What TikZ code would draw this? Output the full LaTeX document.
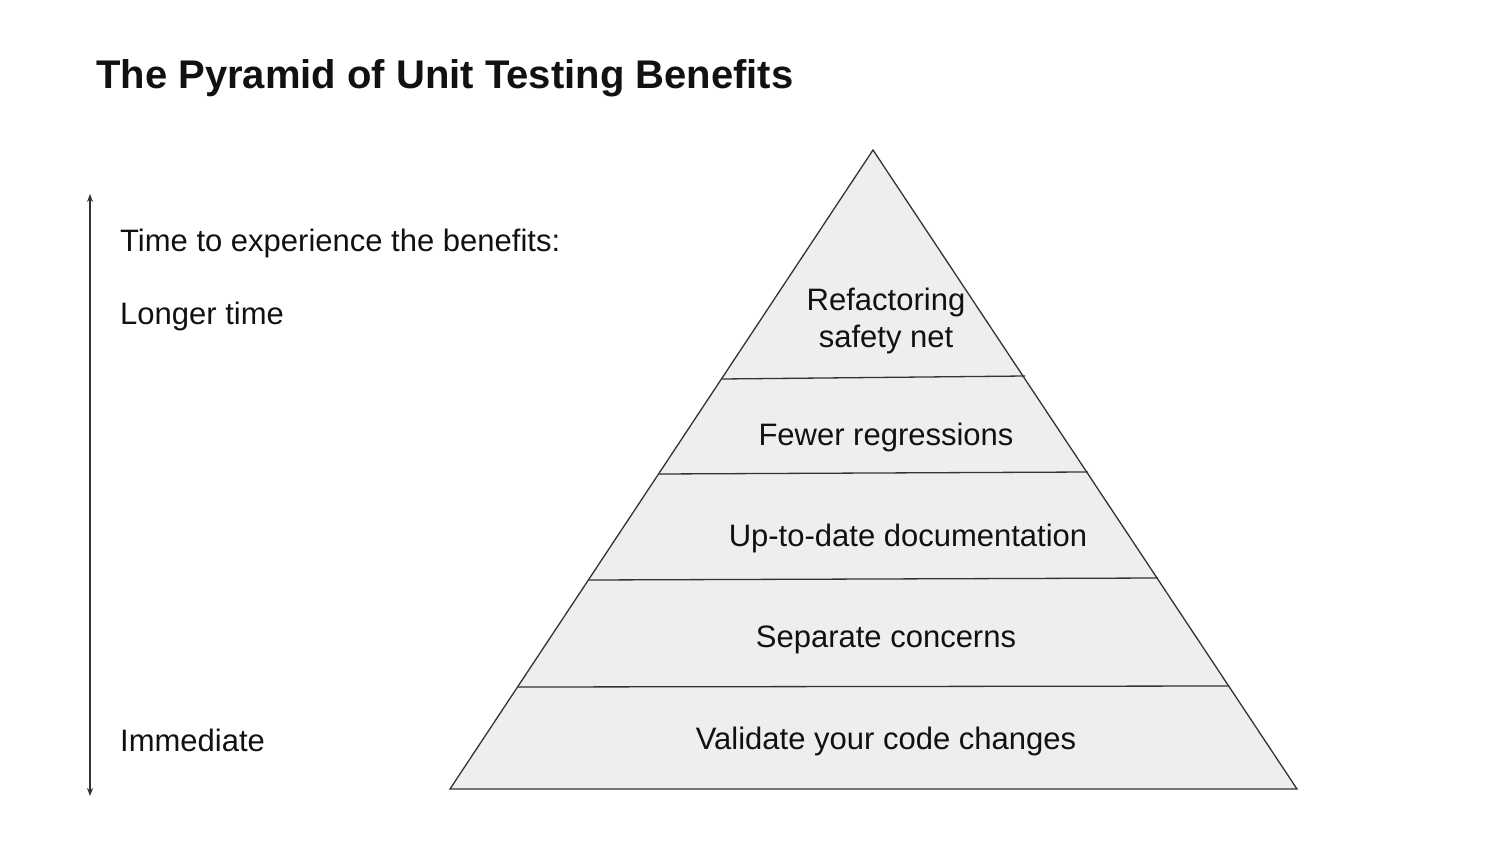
\documentclass[tikz,border=0pt]{standalone}
\usepackage{fontspec}
\setmainfont{Liberation Sans}
\usetikzlibrary{arrows.meta}
\definecolor{tierfill}{HTML}{EEEEEE}
\definecolor{edge}{HTML}{333333}
\definecolor{ink}{HTML}{111111}
\begin{document}
\begin{tikzpicture}[x=1pt,y=-1pt,
  body/.style={font=\fontsize{31}{37}\selectfont, text=ink, inner sep=0pt},
  side/.style={body, anchor=west},
  tierline/.style={draw=edge, line width=1.3pt},
  axis/.style={draw=edge, line width=1.4pt, {Stealth[length=8pt,width=6pt]}-{Stealth[length=8pt,width=6pt]}}]
\useasboundingbox (0,0) rectangle (1490,850);
% title
\node[anchor=west, inner sep=0pt, text=ink, font=\fontsize{40}{46}\selectfont\bfseries] (title) at (96,78) {The Pyramid of Unit Testing Benefits};
% axis
\coordinate (atop) at (90,194);
\coordinate (abot) at (90,796);
\draw[axis] (abot) -- (atop);
\node[side] (timelbl) at (120,243) {Time to experience the benefits:};
\node[side] (longer) at (120,316) {Longer time};
\node[side] (immediate) at (120,740) {Immediate};
% pyramid
\coordinate (apex) at (873,150);
\coordinate (bl) at (450,789);
\coordinate (br) at (1297,789);
\coordinate (l1) at (722,379); \coordinate (r1) at (1025,376);
\coordinate (l2) at (659,474); \coordinate (r2) at (1088,472);
\coordinate (l3) at (589,580); \coordinate (r3) at (1158,578);
\coordinate (l4) at (518,687); \coordinate (r4) at (1229,686);
\fill[tierfill] (apex) -- (bl) -- (br) -- cycle;
\draw[tierline] (l1) -- (r1);
\draw[tierline] (l2) -- (r2);
\draw[tierline] (l3) -- (r3);
\draw[tierline] (l4) -- (r4);
\draw[tierline, line join=miter] (apex) -- (bl) -- (br) -- cycle;
% labels
\node[body, align=center] (t1) at (886,321) {Refactoring\\safety net};
\node[body] (t2) at (886,437) {Fewer regressions};
\node[body] (t3) at (908,538) {Up-to-date documentation};
\node[body] (t4) at (886,640) {Separate concerns};
\node[body] (t5) at (886,741) {Validate your code changes};
\end{tikzpicture}
\end{document}
